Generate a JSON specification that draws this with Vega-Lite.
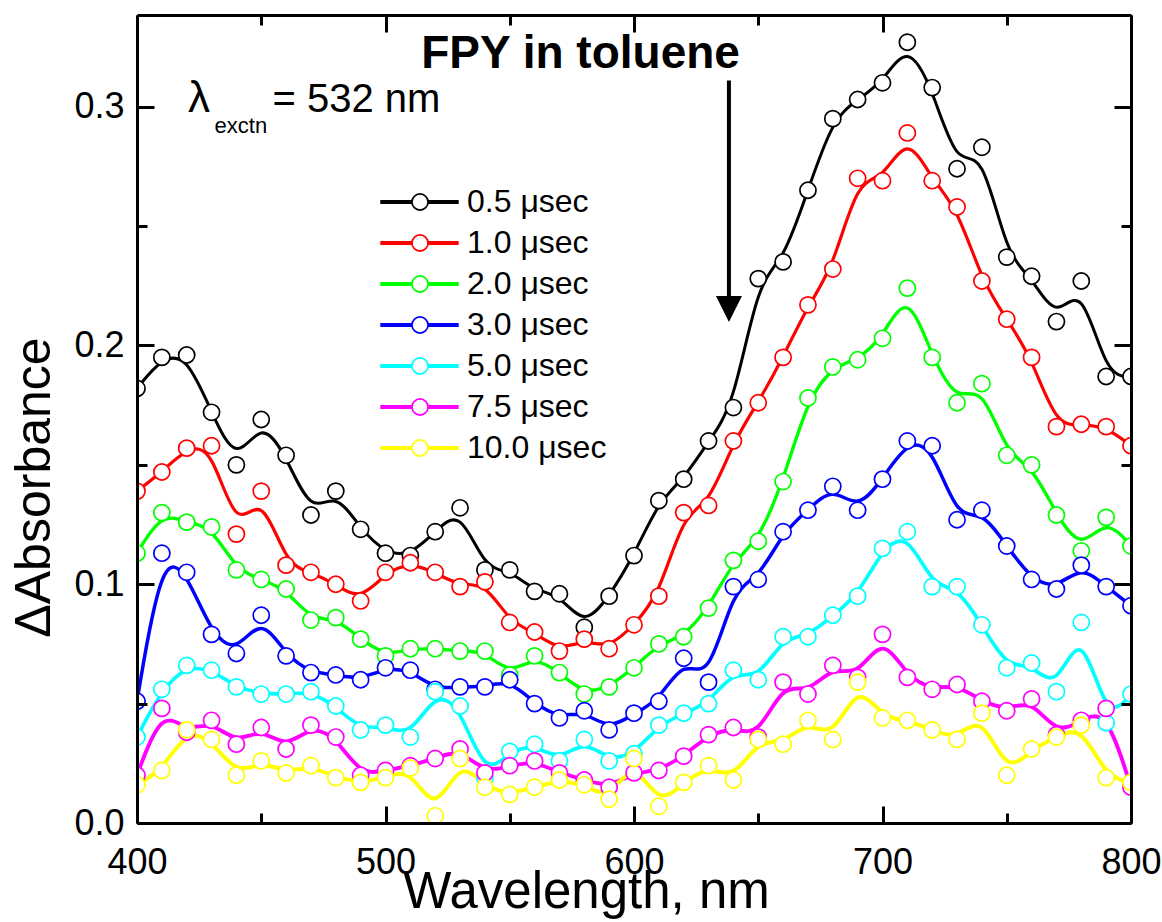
{
  "$schema": "https://vega.github.io/schema/vega-lite/v6.json",
  "width": 994,
  "height": 808,
  "autosize": {"type": "none"},
  "padding": {"left": 137, "top": 15, "right": 31, "bottom": 99},
  "background": "white",
  "config": {"view": {"stroke": null}, "font": "Liberation Sans"},
  "datasets": {
    "delays": [
      {"key": "t05", "series": "0.5 μsec"},
      {"key": "t10", "series": "1.0 μsec"},
      {"key": "t20", "series": "2.0 μsec"},
      {"key": "t30", "series": "3.0 μsec"},
      {"key": "t50", "series": "5.0 μsec"},
      {"key": "t75", "series": "7.5 μsec"},
      {"key": "t100", "series": "10.0 μsec"}
    ],
    "spectra": [
      {"wl": 400, "t05": 0.182, "t10": 0.139, "t20": 0.113, "t30": 0.051, "t50": 0.036, "t75": 0.020, "t100": 0.016},
      {"wl": 410, "t05": 0.195, "t10": 0.147, "t20": 0.130, "t30": 0.113, "t50": 0.056, "t75": 0.048, "t100": 0.022},
      {"wl": 420, "t05": 0.196, "t10": 0.157, "t20": 0.126, "t30": 0.105, "t50": 0.066, "t75": 0.038, "t100": 0.039},
      {"wl": 430, "t05": 0.172, "t10": 0.158, "t20": 0.124, "t30": 0.079, "t50": 0.064, "t75": 0.043, "t100": 0.035},
      {"wl": 440, "t05": 0.150, "t10": 0.121, "t20": 0.106, "t30": 0.071, "t50": 0.057, "t75": 0.033, "t100": 0.020},
      {"wl": 450, "t05": 0.169, "t10": 0.139, "t20": 0.102, "t30": 0.087, "t50": 0.054, "t75": 0.040, "t100": 0.026},
      {"wl": 460, "t05": 0.154, "t10": 0.108, "t20": 0.098, "t30": 0.070, "t50": 0.054, "t75": 0.031, "t100": 0.021},
      {"wl": 470, "t05": 0.129, "t10": 0.105, "t20": 0.085, "t30": 0.063, "t50": 0.055, "t75": 0.041, "t100": 0.024},
      {"wl": 480, "t05": 0.139, "t10": 0.100, "t20": 0.086, "t30": 0.062, "t50": 0.049, "t75": 0.036, "t100": 0.019},
      {"wl": 490, "t05": 0.123, "t10": 0.093, "t20": 0.077, "t30": 0.060, "t50": 0.039, "t75": 0.020, "t100": 0.017},
      {"wl": 500, "t05": 0.113, "t10": 0.105, "t20": 0.070, "t30": 0.065, "t50": 0.041, "t75": 0.022, "t100": 0.019},
      {"wl": 510, "t05": 0.112, "t10": 0.109, "t20": 0.073, "t30": 0.064, "t50": 0.036, "t75": 0.024, "t100": 0.023},
      {"wl": 520, "t05": 0.122, "t10": 0.105, "t20": 0.073, "t30": 0.056, "t50": 0.055, "t75": 0.027, "t100": 0.003},
      {"wl": 530, "t05": 0.132, "t10": 0.099, "t20": 0.072, "t30": 0.057, "t50": 0.049, "t75": 0.031, "t100": 0.027},
      {"wl": 540, "t05": 0.106, "t10": 0.101, "t20": 0.072, "t30": 0.057, "t50": 0.019, "t75": 0.021, "t100": 0.015},
      {"wl": 550, "t05": 0.106, "t10": 0.084, "t20": 0.062, "t30": 0.060, "t50": 0.030, "t75": 0.024, "t100": 0.012},
      {"wl": 560, "t05": 0.097, "t10": 0.080, "t20": 0.070, "t30": 0.050, "t50": 0.033, "t75": 0.026, "t100": 0.015},
      {"wl": 570, "t05": 0.096, "t10": 0.072, "t20": 0.063, "t30": 0.044, "t50": 0.026, "t75": 0.021, "t100": 0.018},
      {"wl": 580, "t05": 0.082, "t10": 0.077, "t20": 0.054, "t30": 0.047, "t50": 0.035, "t75": 0.018, "t100": 0.016},
      {"wl": 590, "t05": 0.095, "t10": 0.073, "t20": 0.057, "t30": 0.039, "t50": 0.026, "t75": 0.015, "t100": 0.010},
      {"wl": 600, "t05": 0.112, "t10": 0.083, "t20": 0.065, "t30": 0.046, "t50": 0.029, "t75": 0.021, "t100": 0.027},
      {"wl": 610, "t05": 0.135, "t10": 0.095, "t20": 0.075, "t30": 0.051, "t50": 0.041, "t75": 0.022, "t100": 0.007},
      {"wl": 620, "t05": 0.144, "t10": 0.130, "t20": 0.078, "t30": 0.069, "t50": 0.046, "t75": 0.028, "t100": 0.017},
      {"wl": 630, "t05": 0.160, "t10": 0.133, "t20": 0.090, "t30": 0.059, "t50": 0.050, "t75": 0.037, "t100": 0.024},
      {"wl": 640, "t05": 0.174, "t10": 0.160, "t20": 0.110, "t30": 0.099, "t50": 0.064, "t75": 0.040, "t100": 0.018},
      {"wl": 650, "t05": 0.228, "t10": 0.176, "t20": 0.118, "t30": 0.102, "t50": 0.060, "t75": 0.036, "t100": 0.035},
      {"wl": 660, "t05": 0.235, "t10": 0.195, "t20": 0.143, "t30": 0.122, "t50": 0.078, "t75": 0.059, "t100": 0.033},
      {"wl": 670, "t05": 0.265, "t10": 0.217, "t20": 0.178, "t30": 0.131, "t50": 0.078, "t75": 0.054, "t100": 0.043},
      {"wl": 680, "t05": 0.295, "t10": 0.232, "t20": 0.191, "t30": 0.141, "t50": 0.087, "t75": 0.066, "t100": 0.035},
      {"wl": 690, "t05": 0.303, "t10": 0.270, "t20": 0.194, "t30": 0.131, "t50": 0.095, "t75": 0.061, "t100": 0.059},
      {"wl": 700, "t05": 0.310, "t10": 0.269, "t20": 0.203, "t30": 0.144, "t50": 0.115, "t75": 0.079, "t100": 0.044},
      {"wl": 710, "t05": 0.327, "t10": 0.289, "t20": 0.224, "t30": 0.160, "t50": 0.122, "t75": 0.061, "t100": 0.043},
      {"wl": 720, "t05": 0.308, "t10": 0.269, "t20": 0.195, "t30": 0.158, "t50": 0.099, "t75": 0.056, "t100": 0.039},
      {"wl": 730, "t05": 0.274, "t10": 0.258, "t20": 0.176, "t30": 0.127, "t50": 0.099, "t75": 0.058, "t100": 0.035},
      {"wl": 740, "t05": 0.283, "t10": 0.227, "t20": 0.184, "t30": 0.131, "t50": 0.083, "t75": 0.051, "t100": 0.046},
      {"wl": 750, "t05": 0.237, "t10": 0.211, "t20": 0.154, "t30": 0.116, "t50": 0.065, "t75": 0.047, "t100": 0.020},
      {"wl": 760, "t05": 0.229, "t10": 0.195, "t20": 0.150, "t30": 0.102, "t50": 0.067, "t75": 0.052, "t100": 0.031},
      {"wl": 770, "t05": 0.210, "t10": 0.166, "t20": 0.129, "t30": 0.098, "t50": 0.055, "t75": 0.037, "t100": 0.036},
      {"wl": 780, "t05": 0.227, "t10": 0.167, "t20": 0.114, "t30": 0.108, "t50": 0.084, "t75": 0.043, "t100": 0.041},
      {"wl": 790, "t05": 0.187, "t10": 0.166, "t20": 0.128, "t30": 0.099, "t50": 0.042, "t75": 0.048, "t100": 0.019},
      {"wl": 800, "t05": 0.187, "t10": 0.158, "t20": 0.116, "t30": 0.091, "t50": 0.054, "t75": 0.015, "t100": 0.017}
    ]
  },
  "layer": [
    {
      "data": {"name": "spectra"},
      "transform": [
        {"fold": ["t05", "t10", "t20", "t30", "t50", "t75", "t100"], "as": ["key", "abs"]},
        {"lookup": "key", "from": {"data": {"name": "delays"}, "key": "key", "fields": ["series"]}}
      ],
      "mark": {"type": "line", "interpolate": "basis", "clip": true},
      "encoding": {
        "x": {
          "field": "wl", "type": "quantitative",
          "scale": {"domain": [400, 800], "nice": false, "zero": false},
          "axis": {
            "orient": "bottom", "grid": false, "zindex": 1,
            "values": [400, 450, 500, 550, 600, 650, 700, 750, 800],
            "format": "d",
            "labelExpr": "datum.value % 100 === 0 ? datum.label : ''",
            "tickSize": {"condition": {"test": "datum.value % 100 === 0", "value": -17}, "value": -10},
            "tickWidth": 3, "tickColor": "black",
            "domainWidth": 3, "domainColor": "black",
            "labelFont": "Liberation Sans", "labelFontSize": 36, "labelColor": "black",
            "labelPadding": 39, "labelFlush": false, "labelOverlap": false,
            "title": "Wavelength, nm", "titleFont": "Liberation Sans", "titleFontSize": 51,
            "titleFontWeight": "normal", "titleColor": "black",
            "titleX": 449, "titleY": 84, "titleAlign": "center", "titleBaseline": "alphabetic"
          }
        },
        "y": {
          "field": "abs", "type": "quantitative",
          "scale": {"domain": [0, 0.3384], "nice": false, "zero": false},
          "axis": {
            "orient": "left", "grid": false, "zindex": 1,
            "values": [0, 0.05, 0.1, 0.15, 0.2, 0.25, 0.3],
            "format": ".1f",
            "labelExpr": "round(datum.value * 20) % 2 === 0 ? datum.label : ''",
            "tickSize": {"condition": {"test": "round(datum.value * 20) % 2 === 0", "value": -17}, "value": -10},
            "tickWidth": 3, "tickColor": "black",
            "domainWidth": 3, "domainColor": "black",
            "labelFont": "Liberation Sans", "labelFontSize": 36, "labelColor": "black",
            "labelPadding": 30, "labelFlush": false, "labelOverlap": false,
            "title": "ΔAbsorbance", "titleFont": "Liberation Sans", "titleFontSize": 50,
            "titleFontWeight": "normal", "titleColor": "black",
            "titleX": -88, "titleY": 472, "titleAlign": "center", "titleBaseline": "alphabetic"
          }
        },
        "color": {
          "field": "series", "type": "nominal",
          "scale": {
            "domain": ["0.5 μsec", "1.0 μsec", "2.0 μsec", "3.0 μsec", "5.0 μsec", "7.5 μsec", "10.0 μsec"],
            "range": ["#000000", "#ff0000", "#00ff00", "#0000ff", "#00ffff", "#ff00ff", "#ffff00"]
          },
          "legend": {
            "title": null, "orient": "none", "legendX": 266.5, "legendY": 171,
            "symbolType": "M-4.9,0L4.9,0", "symbolSize": 256, "symbolStrokeWidth": 4,
            "labelFont": "Liberation Sans", "labelFontSize": 32, "labelColor": "black",
            "labelOffset": 31.5, "labelLimit": 0, "rowPadding": 9, "padding": 0, "zindex": 1
          }
        },
        "strokeWidth": {
          "field": "series", "type": "ordinal",
          "scale": {
            "domain": ["0.5 μsec", "1.0 μsec", "2.0 μsec", "3.0 μsec", "5.0 μsec", "7.5 μsec", "10.0 μsec"],
            "range": [3, 4, 4, 4, 4, 4, 4]
          },
          "legend": null
        }
      }
    },
    {
      "data": {"name": "spectra"},
      "transform": [
        {"fold": ["t05", "t10", "t20", "t30", "t50", "t75", "t100"], "as": ["key", "abs"]}
      ],
      "mark": {"type": "point", "shape": "circle", "filled": true, "fill": "white", "opacity": 1, "size": 260, "strokeWidth": 1.7, "clip": true},
      "encoding": {
        "x": {
          "field": "wl", "type": "quantitative",
          "axis": {
            "orient": "top", "grid": false, "zindex": 1, "labels": false, "title": null,
            "values": [400, 450, 500, 550, 600, 650, 700, 750, 800],
            "tickSize": {"condition": {"test": "datum.value % 100 === 0", "value": -17}, "value": -10},
            "tickWidth": 3, "tickColor": "black",
            "domainWidth": 3, "domainColor": "black"
          }
        },
        "y": {
          "field": "abs", "type": "quantitative",
          "axis": {
            "orient": "right", "grid": false, "zindex": 1, "labels": false, "title": null,
            "values": [0, 0.05, 0.1, 0.15, 0.2, 0.25, 0.3],
            "tickSize": {"condition": {"test": "round(datum.value * 20) % 2 === 0", "value": -17}, "value": -10},
            "tickWidth": 3, "tickColor": "black",
            "domainWidth": 3, "domainColor": "black"
          }
        },
        "stroke": {
          "field": "key", "type": "nominal",
          "scale": {
            "domain": ["t05", "t10", "t20", "t30", "t50", "t75", "t100"],
            "range": ["#000000", "#ff0000", "#00ff00", "#0000ff", "#00ffff", "#ff00ff", "#ffff00"]
          },
          "legend": {
            "title": null, "orient": "none", "legendX": 267, "legendY": 171,
            "symbolType": "circle", "symbolSize": 260, "symbolStrokeWidth": 1.7, "symbolFillColor": "white",
            "labelExpr": "''",
            "labelFont": "Liberation Sans", "labelFontSize": 32,
            "labelOffset": 0, "labelLimit": 0, "rowPadding": 9, "padding": 0, "zindex": 2
          }
        }
      }
    },
    {
      "data": {"values": [{}]},
      "mark": {"type": "rule", "color": "black", "strokeWidth": 4},
      "encoding": {
        "x": {"datum": 638.2, "type": "quantitative", "axis": null},
        "y": {"datum": 0.311, "type": "quantitative", "axis": null},
        "y2": {"datum": 0.2205}
      }
    },
    {
      "data": {"values": [{}]},
      "mark": {"type": "point", "shape": "M-1,-1L1,-1L0,1Z", "size": 676, "filled": true, "color": "black", "opacity": 1, "strokeWidth": 0},
      "encoding": {
        "x": {"datum": 638.2, "type": "quantitative", "axis": null},
        "y": {"datum": 0.2153, "type": "quantitative", "axis": null}
      }
    },
    {
      "data": {"values": [{}]},
      "mark": {"type": "text", "text": "FPY in toluene", "font": "Liberation Sans", "fontSize": 46, "fontWeight": "bold", "align": "center", "baseline": "alphabetic", "color": "black"},
      "encoding": {
        "x": {"datum": 578.5, "type": "quantitative", "axis": null},
        "y": {"datum": 0.3162, "type": "quantitative", "axis": null}
      }
    },
    {
      "data": {"values": [{}]},
      "mark": {"type": "text", "text": "λ", "font": "Liberation Sans", "fontSize": 44, "align": "left", "baseline": "alphabetic", "color": "black"},
      "encoding": {
        "x": {"datum": 420.5, "type": "quantitative", "axis": null},
        "y": {"datum": 0.2978, "type": "quantitative", "axis": null}
      }
    },
    {
      "data": {"values": [{}]},
      "mark": {"type": "text", "text": "exctn", "font": "Liberation Sans", "fontSize": 22, "align": "left", "baseline": "alphabetic", "color": "black"},
      "encoding": {
        "x": {"datum": 431.2, "type": "quantitative", "axis": null},
        "y": {"datum": 0.289, "type": "quantitative", "axis": null}
      }
    },
    {
      "data": {"values": [{}]},
      "mark": {"type": "text", "text": "= 532 nm", "font": "Liberation Sans", "fontSize": 40, "align": "left", "baseline": "alphabetic", "color": "black"},
      "encoding": {
        "x": {"datum": 454.5, "type": "quantitative", "axis": null},
        "y": {"datum": 0.2978, "type": "quantitative", "axis": null}
      }
    }
  ],
  "resolve": {
    "axis": {"x": "independent", "y": "independent"},
    "legend": {"color": "independent", "stroke": "independent"}
  }
}
